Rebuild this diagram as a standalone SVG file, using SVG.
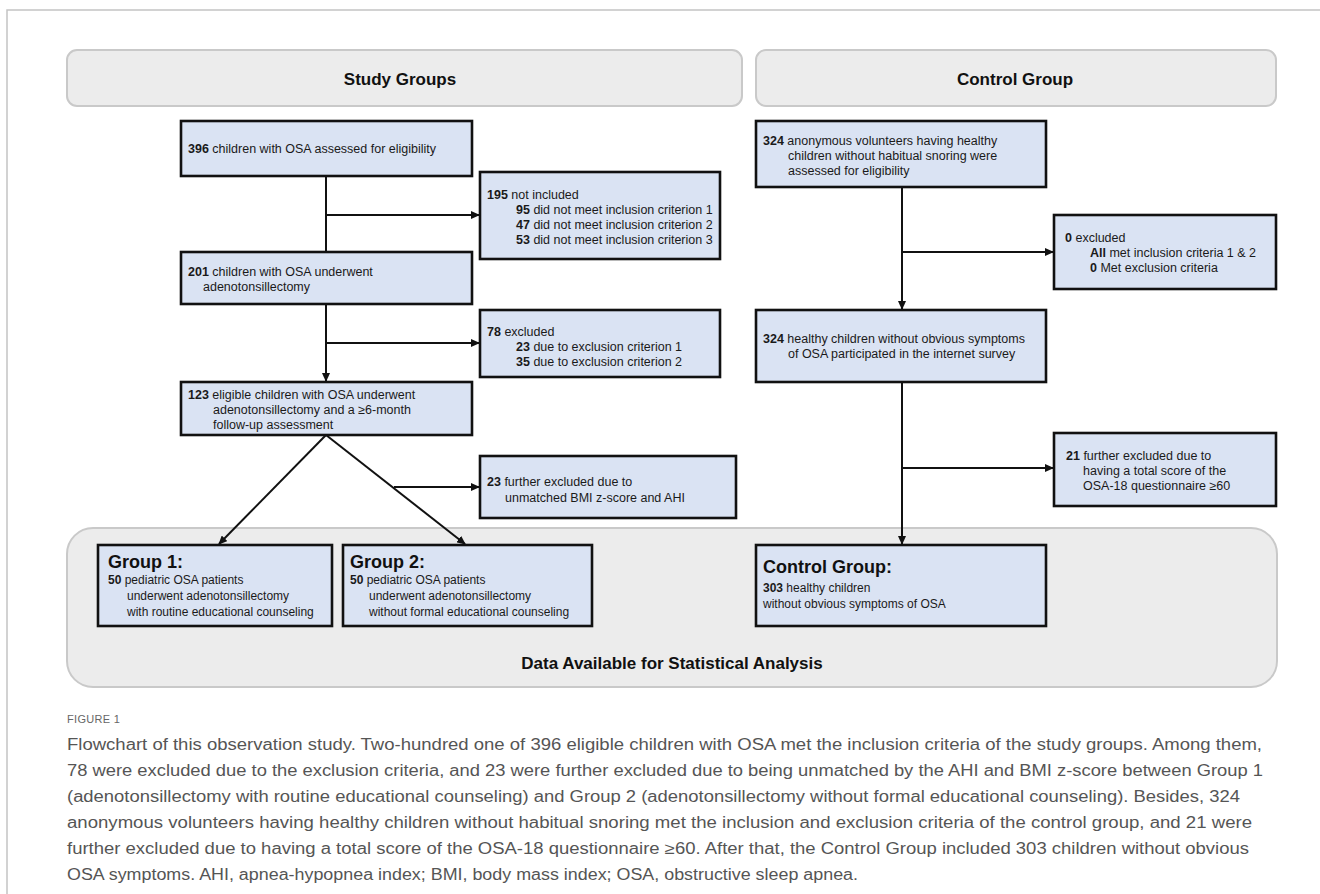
<svg xmlns="http://www.w3.org/2000/svg" width="1320" height="894" viewBox="0 0 1320 894">
<style>
.bg{fill:#ffffff}
.frame{fill:none;stroke:#c4c4c4;stroke-width:1.5}
.hdr{fill:#ececec;stroke:#c9c9c9;stroke-width:2}
.box{fill:#dae3f3;stroke:#111111;stroke-width:2.6}
.t{font-family:"Liberation Sans",Arial,sans-serif;font-size:12.5px;fill:#1a1a1a}
.ts{font-family:"Liberation Sans",Arial,sans-serif;font-size:12px;fill:#1a1a1a}
.b{font-weight:bold}
.ttl{font-family:"Liberation Sans",Arial,sans-serif;font-size:17px;font-weight:bold;fill:#111;text-anchor:middle}
.gt{font-family:"Liberation Sans",Arial,sans-serif;font-size:18px;font-weight:bold;fill:#111}
.con{fill:none;stroke:#111;stroke-width:2}
.cap{font-family:"Liberation Sans",Arial,sans-serif;font-size:16px;fill:#555555}
.fig{font-family:"Liberation Sans",Arial,sans-serif;font-size:11px;fill:#666666;letter-spacing:0.3px}
</style>
<defs>
<marker id="ah" markerUnits="userSpaceOnUse" markerWidth="9" markerHeight="8" refX="8" refY="4" orient="auto">
<path d="M0,0 L9,4 L0,8 z" fill="#111"/>
</marker>
</defs>
<rect class="bg" x="0" y="0" width="1320" height="894"/>
<path class="frame" d="M7,894 L7,10 L1320,10"/>

<g id="header-study">
<rect class="hdr" x="67" y="50" width="675" height="56" rx="10"/>
<text class="ttl" x="400" y="85">Study Groups</text>
</g>
<g id="header-control">
<rect class="hdr" x="756" y="50" width="520" height="56" rx="10"/>
<text class="ttl" x="1015" y="85">Control Group</text>
</g>
<g id="data-available">
<rect class="hdr" x="67" y="528" width="1210" height="159" rx="26"/>
<text class="ttl" x="672" y="669">Data Available for Statistical Analysis</text>
</g>

<g id="connectors">
<line class="con" x1="326" y1="176" x2="326" y2="252"/>
<line class="con" x1="326" y1="215" x2="479" y2="215" marker-end="url(#ah)"/>
<line class="con" x1="326" y1="304" x2="326" y2="381" marker-end="url(#ah)"/>
<line class="con" x1="326" y1="343" x2="479" y2="343" marker-end="url(#ah)"/>
<line class="con" x1="326" y1="435" x2="219" y2="544" marker-end="url(#ah)"/>
<line class="con" x1="326" y1="435" x2="465" y2="544" marker-end="url(#ah)"/>
<line class="con" x1="394" y1="487" x2="479" y2="487" marker-end="url(#ah)"/>
<line class="con" x1="902" y1="187" x2="902" y2="309" marker-end="url(#ah)"/>
<line class="con" x1="902" y1="252" x2="1053" y2="252" marker-end="url(#ah)"/>
<line class="con" x1="902" y1="382" x2="902" y2="544" marker-end="url(#ah)"/>
<line class="con" x1="902" y1="468" x2="1053" y2="468" marker-end="url(#ah)"/>
</g>

<g id="n396">
<rect class="box" x="181" y="121" width="291" height="55"/>
<text class="t" x="188" y="152.5"><tspan class="b">396</tspan> children with OSA assessed for eligibility</text>
</g>
<g id="n195">
<rect class="box" x="480" y="172" width="240" height="87"/>
<text class="t" x="487" y="198.5"><tspan class="b">195</tspan> not included</text>
<text class="t" x="516" y="213.5"><tspan class="b">95</tspan> did not meet inclusion criterion 1</text>
<text class="t" x="516" y="228.5"><tspan class="b">47</tspan> did not meet inclusion criterion 2</text>
<text class="t" x="516" y="243.5"><tspan class="b">53</tspan> did not meet inclusion criterion 3</text>
</g>
<g id="n201">
<rect class="box" x="181" y="252" width="291" height="52"/>
<text class="t" x="188" y="275.5"><tspan class="b">201</tspan> children with OSA underwent</text>
<text class="t" x="203" y="290.5">adenotonsillectomy</text>
</g>
<g id="n78">
<rect class="box" x="480" y="310" width="240" height="67"/>
<text class="t" x="487" y="335.5"><tspan class="b">78</tspan> excluded</text>
<text class="t" x="516" y="350.5"><tspan class="b">23</tspan> due to exclusion criterion 1</text>
<text class="t" x="516" y="365.5"><tspan class="b">35</tspan> due to exclusion criterion 2</text>
</g>
<g id="n123">
<rect class="box" x="181" y="382" width="291" height="53"/>
<text class="t" x="188" y="398.5"><tspan class="b">123</tspan> eligible children with OSA underwent</text>
<text class="t" x="213" y="413.5">adenotonsillectomy and a ≥6-month</text>
<text class="t" x="213" y="428.5">follow-up assessment</text>
</g>
<g id="n23">
<rect class="box" x="480" y="456" width="256" height="62"/>
<text class="t" x="487" y="485.5"><tspan class="b">23</tspan> further excluded due to</text>
<text class="t" x="505" y="501.5">unmatched BMI z-score and AHI</text>
</g>
<g id="group1">
<rect class="box" x="98" y="545" width="234" height="81"/>
<text class="gt" x="108" y="567.5">Group 1:</text>
<text class="ts" x="108" y="583.5"><tspan class="b">50</tspan> pediatric OSA patients</text>
<text class="ts" x="127" y="599.5">underwent adenotonsillectomy</text>
<text class="ts" x="127" y="615.5">with routine educational counseling</text>
</g>
<g id="group2">
<rect class="box" x="343" y="545" width="249" height="81"/>
<text class="gt" x="350" y="567.5">Group 2:</text>
<text class="ts" x="350" y="583.5"><tspan class="b">50</tspan> pediatric OSA patients</text>
<text class="ts" x="369" y="599.5">underwent adenotonsillectomy</text>
<text class="ts" x="369" y="615.5">without formal educational counseling</text>
</g>

<g id="n324a">
<rect class="box" x="756" y="121" width="290" height="66"/>
<text class="t" x="763" y="145"><tspan class="b">324</tspan> anonymous volunteers having healthy</text>
<text class="t" x="788" y="160">children without habitual snoring were</text>
<text class="t" x="788" y="175">assessed for eligibility</text>
</g>
<g id="n0">
<rect class="box" x="1054" y="215" width="222" height="74"/>
<text class="t" x="1065" y="241.5"><tspan class="b">0</tspan> excluded</text>
<text class="t" x="1090" y="256.5"><tspan class="b">All</tspan> met inclusion criteria 1 &amp; 2</text>
<text class="t" x="1090" y="271.5"><tspan class="b">0</tspan> Met exclusion criteria</text>
</g>
<g id="n324b">
<rect class="box" x="756" y="310" width="290" height="72"/>
<text class="t" x="763" y="343"><tspan class="b">324</tspan> healthy children without obvious symptoms</text>
<text class="t" x="788" y="358">of OSA participated in the internet survey</text>
</g>
<g id="n21">
<rect class="box" x="1054" y="433" width="222" height="73"/>
<text class="t" x="1066" y="459.5"><tspan class="b">21</tspan> further excluded due to</text>
<text class="t" x="1083" y="474.5">having a total score of the</text>
<text class="t" x="1083" y="489.5">OSA-18 questionnaire ≥60</text>
</g>
<g id="control">
<rect class="box" x="756" y="545" width="290" height="81"/>
<text class="gt" x="763" y="573">Control Group:</text>
<text class="ts" x="763" y="592"><tspan class="b">303</tspan> healthy children</text>
<text class="ts" x="763" y="608">without obvious symptoms of OSA</text>
</g>

<g id="caption">
<text class="fig" x="67" y="723">FIGURE 1</text>
<text class="cap" x="67" y="749.5" textLength="1195" lengthAdjust="spacingAndGlyphs">Flowchart of this observation study. Two-hundred one of 396 eligible children with OSA met the inclusion criteria of the study groups. Among them,</text>
<text class="cap" x="67" y="775.5" textLength="1196" lengthAdjust="spacingAndGlyphs">78 were excluded due to the exclusion criteria, and 23 were further excluded due to being unmatched by the AHI and BMI z-score between Group 1</text>
<text class="cap" x="67" y="801.5" textLength="1173" lengthAdjust="spacingAndGlyphs">(adenotonsillectomy with routine educational counseling) and Group 2 (adenotonsillectomy without formal educational counseling). Besides, 324</text>
<text class="cap" x="67" y="827.5" textLength="1185" lengthAdjust="spacingAndGlyphs">anonymous volunteers having healthy children without habitual snoring met the inclusion and exclusion criteria of the control group, and 21 were</text>
<text class="cap" x="67" y="853.5" textLength="1182" lengthAdjust="spacingAndGlyphs">further excluded due to having a total score of the OSA-18 questionnaire ≥60. After that, the Control Group included 303 children without obvious</text>
<text class="cap" x="67" y="879.5" textLength="791" lengthAdjust="spacingAndGlyphs">OSA symptoms. AHI, apnea-hypopnea index; BMI, body mass index; OSA, obstructive sleep apnea.</text>
</g>
</svg>
